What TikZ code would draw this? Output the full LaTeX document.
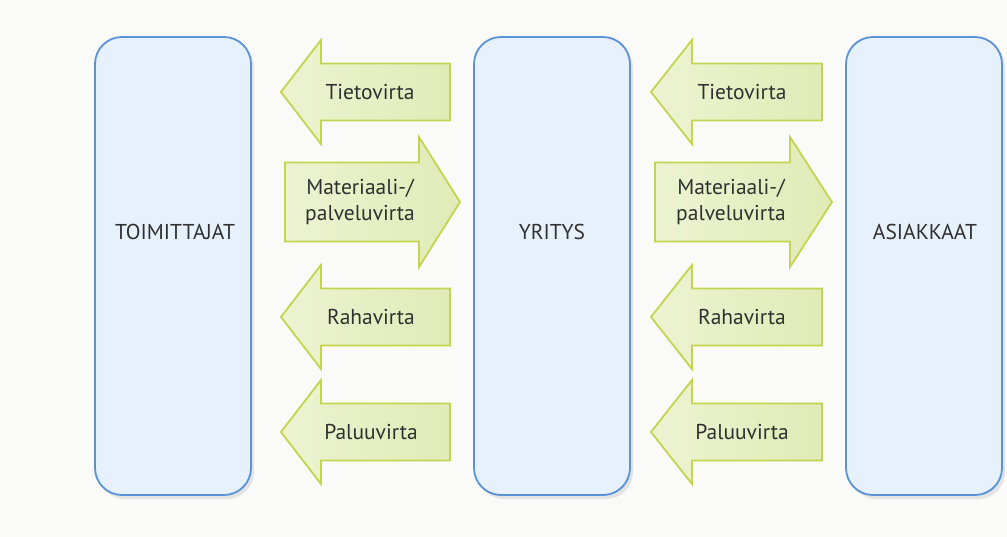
\documentclass[tikz,border=0pt]{standalone}
\usepackage{fontspec}
\setmainfont{PT Sans}
\usetikzlibrary{shadows}
\definecolor{boxfill}{HTML}{E7F1FB}
\definecolor{boxline}{HTML}{5A92D6}
\definecolor{arrfillA}{HTML}{EDF3D2}
\definecolor{arrfillB}{HTML}{E0EBB6}
\definecolor{arrline}{HTML}{C3D54E}
\definecolor{txt}{HTML}{303030}
\definecolor{pagebg}{HTML}{FAFAF9}
\tikzset{
  entity/.style={draw=boxline, line width=1.8pt, fill=boxfill, rounded corners=27pt,
    drop shadow={opacity=0.18, shadow xshift=3pt, shadow yshift=-4pt}},
  flow/.style={draw=arrline, line width=1.8pt, left color=arrfillA, right color=arrfillB, line join=miter},
  lbl/.style={text=txt, font=\fontsize{21.5}{26}\selectfont, align=center, inner sep=0pt},
}
% tip x, head base x, end x, centre y, shaft half height, head half height
\newcommand\flowshape[6]{%
  \draw[flow] (#1,#4) -- (#2,#4-#6) -- (#2,#4-#5) -- (#3,#4-#5) -- (#3,#4+#5)
    -- (#2,#4+#5) -- (#2,#4+#6) -- cycle;}
\begin{document}
\begin{tikzpicture}[x=1pt,y=-1pt]
\fill[pagebg] (0,0) rectangle (1007,537);
\useasboundingbox (0,0) rectangle (1007,537);

% entity boxes
\draw[entity] (95,37) rectangle (251,495);
\draw[entity] (474,37) rectangle (630,495);
\draw[entity] (846,37) rectangle (1002,495);
\node[lbl] (supp) at (175,232) {TOIMITTAJAT};
\node[lbl] (firm) at (552,232) {YRITYS};
\node[lbl] (cust) at (925,232) {ASIAKKAAT};

% left group of flows
\flowshape{281}{321}{450}{92}{28.5}{52}
\flowshape{460}{419}{285}{202}{39.5}{65}
\flowshape{281}{321}{450}{317}{28.5}{52}
\flowshape{281}{321}{450}{432}{28.5}{52}
\node[lbl] (l1) at (370,92) {Tietovirta};
\node[lbl] (l2) at (360,202) {Materiaali-/\\palveluvirta};
\node[lbl] (l3) at (371,317) {Rahavirta};
\node[lbl] (l4) at (371,432) {Paluuvirta};

% right group of flows
\flowshape{651}{692}{822}{92}{28.5}{52}
\flowshape{832}{790}{655}{202}{39.5}{65}
\flowshape{651}{692}{822}{317}{28.5}{52}
\flowshape{651}{692}{822}{432}{28.5}{52}
\node[lbl] (r1) at (742,92) {Tietovirta};
\node[lbl] (r2) at (731,202) {Materiaali-/\\palveluvirta};
\node[lbl] (r3) at (742,317) {Rahavirta};
\node[lbl] (r4) at (742,432) {Paluuvirta};
\end{tikzpicture}
\end{document}
